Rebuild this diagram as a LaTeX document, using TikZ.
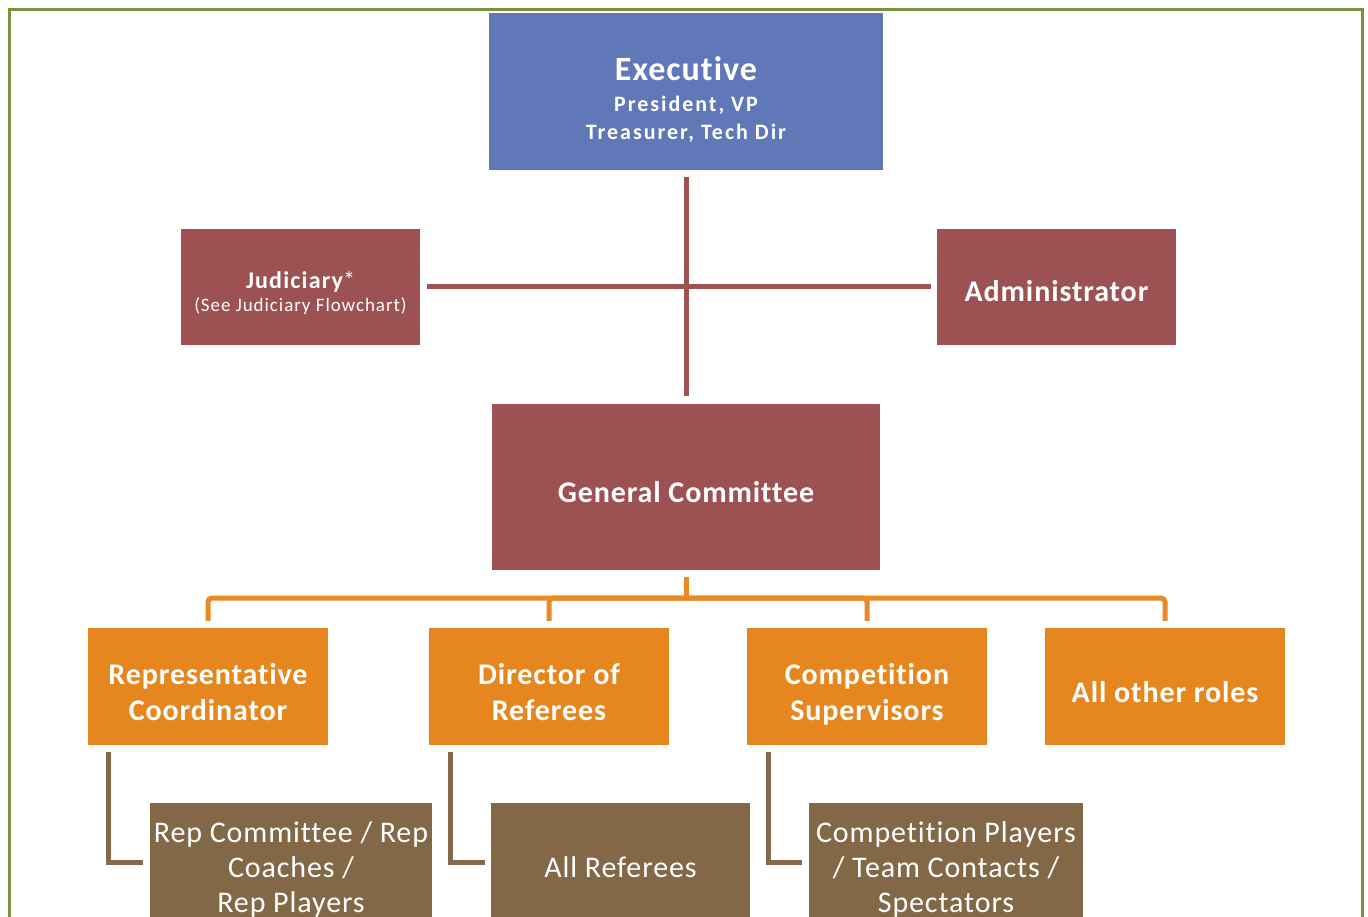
\documentclass[tikz,border=0pt]{standalone}
\usepackage{fontspec}
\setmainfont{Carlito}[Ligatures=NoCommon]
\usetikzlibrary{calc}
\definecolor{execblue}{HTML}{6178B8}
\definecolor{maroon}{HTML}{9C5152}
\definecolor{roleorange}{HTML}{E6861F}
\definecolor{linkorange}{HTML}{E98A26}
\definecolor{rolebrown}{HTML}{836848}
\definecolor{linkbrown}{HTML}{86694A}
\definecolor{framegreen}{HTML}{77933C}
\newcommand\boldbig{\fontsize{30}{36}\selectfont\bfseries\addfontfeatures{LetterSpace=3}}
\newcommand\plainbig{\fontsize{30}{35}\selectfont\addfontfeatures{LetterSpace=3}}
\newcommand\headroom[1]{\rule{0pt}{#1}}
\tikzset{
	footroom/.style={execute at end node={\rule[-#1]{0pt}{0pt}}},
	execstyle/.style={rectangle,fill=execblue,text=white,align=center,minimum width=394pt,minimum height=157pt,inner sep=0pt},
	maroonstyle/.style={rectangle,fill=maroon,text=white,align=center,minimum width=239pt,minimum height=116pt,inner sep=0pt},
	orangestyle/.style={rectangle,fill=roleorange,text=white,align=center,minimum width=240pt,minimum height=117pt,inner sep=0pt,font=\boldbig,footroom=7.5pt},
	brownstyle/.style={rectangle,fill=rolebrown,text=white,align=center,minimum height=130pt,inner sep=0pt,font=\plainbig,footroom=7.5pt},
	maroonline/.style={draw=maroon,line width=5pt},
	orangeline/.style={draw=linkorange,line width=5pt,rounded corners=4pt},
	brownline/.style={draw=linkbrown,line width=5pt}
}
\begin{document}
\begin{tikzpicture}[x=1pt,y=-1pt]
		\useasboundingbox (0,0) rectangle (1368,917);
		\clip (0,0) rectangle (1368,917);
		\fill[white] (0,0) rectangle (1368,917);
		\draw[framegreen,line width=3pt] (9.5,9.5) rectangle (1362.5,960);
		% top level
		\node[execstyle,footroom=3pt,font=\fontsize{22}{27.5}\selectfont\bfseries\addfontfeatures{LetterSpace=9}] (exec) at (686,91.5)
			{{\fontsize{34}{40}\selectfont\addfontfeatures{LetterSpace=3}\headroom{40.5pt}Executive}\\[3.5pt]
			President, VP\\
			Treasurer, Tech Dir};
		\node[maroonstyle,footroom=6pt,font=\fontsize{19}{23}\selectfont\addfontfeatures{LetterSpace=5}] (jud) at (300.5,287)
			{{\fontsize{24}{28}\selectfont\bfseries\addfontfeatures{LetterSpace=5}\headroom{33pt}Judiciary}{\fontsize{24}{28}\selectfont*}\\
			(See Judiciary Flowchart)};
		\node[maroonstyle,font=\boldbig,footroom=7.5pt] (admin) at (1056.5,287) {\headroom{36.5pt}Administrator};
		\node[maroonstyle,minimum width=388pt,minimum height=166pt,font=\boldbig,footroom=7.5pt] (gc) at (686,487) {\headroom{37.5pt}General Committee};
		% roles
		\node[orangestyle] (rep) at (208,686.5) {\headroom{38.5pt}Representative\\Coordinator};
		\node[orangestyle] (ref) at (549,686.5) {\headroom{38.5pt}Director of\\Referees};
		\node[orangestyle] (comp) at (867,686.5) {\headroom{38.5pt}Competition\\Supervisors};
		\node[orangestyle] (other) at (1165,686.5) {\headroom{38.5pt}All other roles};
		% sub roles
		\node[brownstyle,minimum width=282pt] (repsub) at (291,868) {\headroom{25.5pt}Rep Committee / Rep\\Coaches /\\Rep Players};
		\node[brownstyle,minimum width=259pt] (refsub) at (620.5,868) {\headroom{25.5pt}All Referees};
		\node[brownstyle,minimum width=274pt] (compsub) at (946,868) {\headroom{25.5pt}Competition Players\\/ Team Contacts /\\Spectators};
		% maroon links
		\draw[maroonline,shorten <=7pt,shorten >=8pt] (exec.south) -- (gc.north);
		\draw[maroonline,shorten <=7pt,shorten >=6pt] (jud.east) -- (admin.west);
		% orange links
		\coordinate (bus) at (686,598);
		\draw[orangeline,shorten <=7pt] (gc.south) -- (bus);
		\draw[orangeline,shorten >=7pt] (bus) -| (rep.north);
		\draw[orangeline,shorten >=7pt] (bus) -| (ref.north);
		\draw[orangeline,shorten >=7pt] (bus) -| (comp.north);
		\draw[orangeline,shorten >=7pt] (bus) -| (other.north);
		% brown links
		\draw[brownline,shorten <=7pt,shorten >=7pt] ([xshift=21pt]rep.south west) |- ([yshift=6pt]repsub.west);
		\draw[brownline,shorten <=7pt,shorten >=6pt] ([xshift=22pt]ref.south west) |- ([yshift=6pt]refsub.west);
		\draw[brownline,shorten <=7pt,shorten >=7pt] ([xshift=22pt]comp.south west) |- ([yshift=6pt]compsub.west);
\end{tikzpicture}
\end{document}
